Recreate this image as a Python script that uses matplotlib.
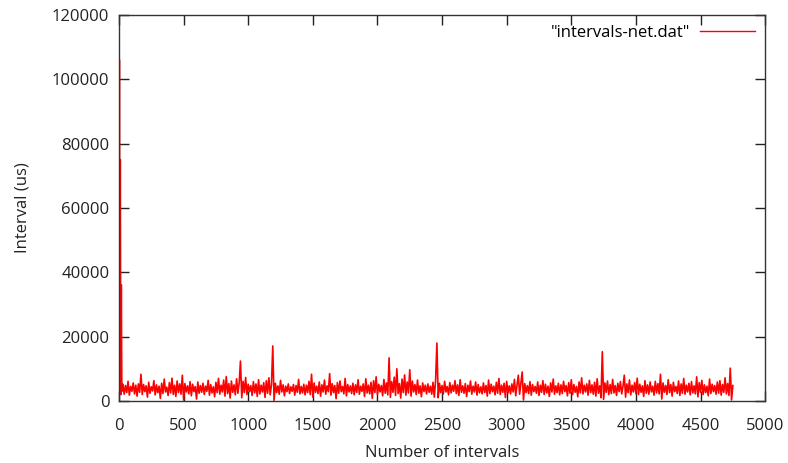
import matplotlib
matplotlib.use("Agg")
import matplotlib.pyplot as plt
import numpy as np

plt.rcParams['font.family'] = ['Open Sans', 'DejaVu Sans']

# First few intervals (startup burst)
head_x = [0, 3, 6, 10, 14, 18, 22, 26]
head_y = [4000, 106000, 3500, 75000, 2000, 36000, 3000, 5000]

# Remaining intervals, sampled every 10 intervals starting at 30 (us)
band_start = 30
band_step = 10
band_y = [
    5200, 2100, 4800, 2600, 6100, 1800, 4500, 3000, 5600, 2200, 4900, 1500, 5300, 2700, 8300, 2000, 5100, 2900, 4700, 1200,
    5800, 2400, 4400, 3100, 6300, 1900, 5000, 2600, 4600, 800, 5500, 2300, 6800, 2800, 4300, 1700, 5700, 2500, 7100, 2000,
    4900, 1400, 6200, 2600, 5300, 2100, 8000, 300, 5400, 2800, 4700, 2200, 6000, 1600, 5200, 2900, 4500, 600, 5900, 2400,
    4800, 2700, 5500, 2000, 4600, 3000, 6400, 1800, 5100, 2500, 4400, 1300, 5800, 2600, 7000, 2100, 4900, 2800, 6500, 1500,
    7600, 2300, 5400, 900, 6200, 2700, 5000, 1900, 6900, 2400, 5600, 12400, 1000, 6100, 2600, 7300, 2000, 5200, 2900, 4800,
    1700, 6000, 2500, 5300, 1400, 6600, 2200, 4900, 2800, 5700, 1100, 6300, 2400, 7200, 1900, 5100, 17100, 200, 5500, 2600,
    4700, 2100, 6400, 2800, 5000, 1600, 4600, 2900, 5300, 2300, 4400, 3000, 5100, 1800, 4800, 2700, 6700, 2200, 4500, 2500,
    5200, 1900, 4900, 2600, 6100, 2000, 8300, 1200, 5600, 2700, 4600, 2300, 5900, 1500, 5000, 2800, 6500, 2100, 4700, 2900,
    8500, 1800, 5400, 2600, 4800, 700, 5700, 2400, 6200, 2900, 4500, 2200, 7000, 1600, 5100, 2800, 4700, 2300, 5500, 1900,
    5000, 2700, 6600, 2100, 4600, 3000, 5300, 1400, 6900, 2500, 4900, 2200, 5800, 800, 6300, 2600, 7500, 2000, 5200, 2800,
    4800, 1600, 6700, 2400, 5600, 1900, 13400, 1100, 6000, 2700, 7400, 1700, 10000, 2300, 5400, 900, 6800, 2600, 8100, 1800,
    5900, 2500, 9700, 1500, 6200, 2800, 5100, 2000, 6500, 2400, 4700, 1300, 5600, 2900, 4900, 2200, 5300, 2700, 4600, 2100,
    5800, 1200, 6400, 18000, 1000, 5500, 2600, 4800, 2200, 6100, 2800, 4500, 1900, 5700, 2500, 4900, 3000, 6300, 2300, 5000,
    1700, 6600, 2700, 4700, 2400, 5400, 1400, 4900, 2900, 6200, 2100, 4600, 2800, 5900, 1800, 5100, 2500, 4400, 2200, 5600,
    2600, 4800, 1500, 6500, 2300, 5200, 2900, 4600, 1900, 5800, 2400, 7000, 2000, 4900, 2700, 5500, 1100, 6100, 2500, 4700,
    2200, 5300, 2800, 6700, 1600, 5000, 8000, 2100, 5700, 9000, 300, 5400, 2600, 4800, 2300, 6000, 1800, 5100, 2900, 4500,
    2400, 5900, 1700, 4900, 2700, 6300, 2000, 5200, 2500, 4600, 1400, 5600, 2800, 6800, 2100, 4700, 2600, 5500, 1900, 5000,
    2300, 6100, 2900, 4800, 1600, 5700, 2400, 6600, 2000, 5100, 2700, 4500, 1300, 5900, 2500, 7200, 2200, 4900, 2800, 5300,
    1800, 6400, 2600, 5000, 2100, 5800, 1500, 6900, 2400, 4700, 1000, 15300, 500, 5600, 2700, 6200, 2000, 5100, 2300, 6700,
    2500, 4800, 1700, 5500, 2900, 6000, 2200, 4600, 8000, 1200, 5300, 2600, 6500, 1900, 4900, 2800, 5700, 2300, 7100, 2000,
    5200, 2700, 4700, 1400, 6300, 2400, 5000, 2100, 5900, 2800, 4600, 1800, 6100, 2500, 5400, 2200, 8300, 600, 5600, 2700,
    4800, 2000, 6600, 2600, 5100, 1500, 5800, 2900, 4500, 2300, 6200, 1700, 5300, 2400, 7000, 2100, 4900, 2800, 5500, 1900,
    6000, 2500, 4700, 2200, 7500, 1300, 5700, 2700, 6400, 2000, 5000, 2600, 4600, 1600, 6800, 2300, 5200, 2900, 4800, 2100,
    5900, 2400, 6300, 1800, 5100, 2700, 7200, 2200, 5400, 1700, 10200, 300, 4800,
]

x_ticks = [0, 500, 1000, 1500, 2000, 2500, 3000, 3500, 4000, 4500, 5000]
y_ticks = [0, 20000, 40000, 60000, 80000, 100000, 120000]

band_x = band_start + band_step * np.arange(len(band_y))
xs = np.concatenate([head_x, band_x])
ys = np.concatenate([head_y, band_y])

fig = plt.figure(figsize=(7.88, 4.63), dpi=100)
ax = fig.add_axes([0.151, 0.134, 0.820, 0.834])
ax.plot(xs, ys, color='#ff0000', lw=1.2, label='"intervals-net.dat"')

ax.set_xlim(0, 5000)
ax.set_ylim(0, 120000)
ax.set_xticks(x_ticks)
ax.set_yticks(y_ticks)
ax.tick_params(direction='in', length=7, width=1, top=True, right=True,
               labelsize=12, colors='#222222')
ax.tick_params(axis='x', pad=12)
ax.tick_params(axis='y', pad=7)
for s in ax.spines.values():
    s.set_linewidth(1)
    s.set_color('#333333')
ax.set_xlabel('Number of intervals', fontsize=12, labelpad=8, color='#222222')
ax.set_ylabel('Interval (us)', fontsize=12, labelpad=15, color='#222222')
leg = ax.legend(loc='upper right', frameon=False, fontsize=12, handlelength=3.3,
                handletextpad=0.6, borderaxespad=0.2, markerfirst=False)
for line in leg.get_lines():
    line.set_linewidth(1.0)

fig.savefig('out.png', dpi=100)
